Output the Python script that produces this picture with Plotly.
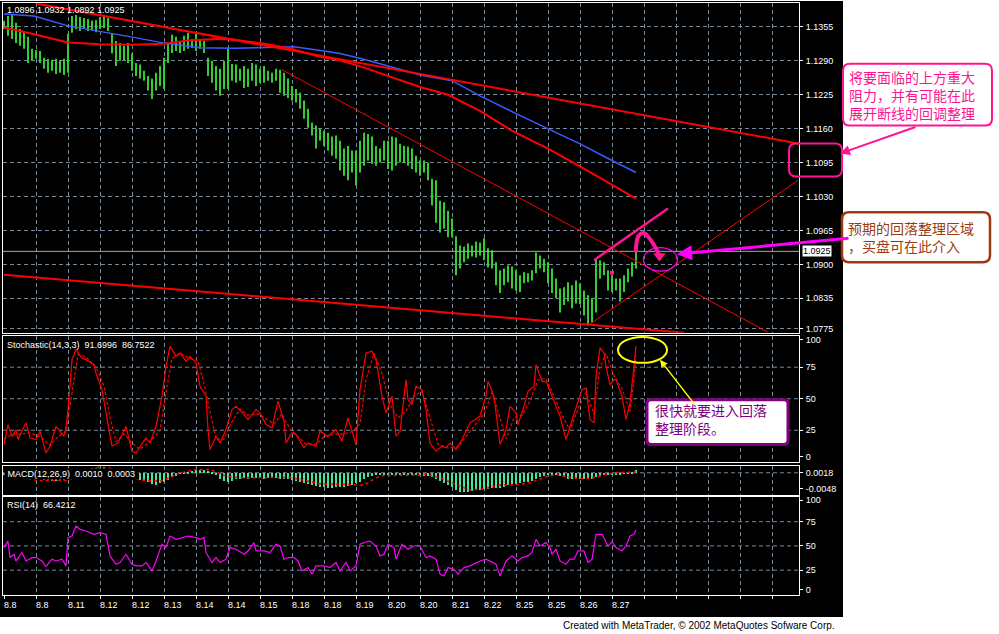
import plotly.graph_objects as go

W, H = 999, 634
FONT = "Liberation Sans"
CJK = "Noto Sans CJK SC"
GRID = "#778899"

# ---------------- data ----------------
time_labels = ["8.8", "8.8", "8.11", "8.12", "8.12", "8.13", "8.14", "8.14", "8.15", "8.18",
               "8.18", "8.19", "8.20", "8.20", "8.21", "8.22", "8.25", "8.25", "8.26", "8.27"]
label_every_hours = 16
bar_step_hours = 2

bar_high = [
    1.1367, 1.1376, 1.1378, 1.1363, 1.1351, 1.1347, 1.1336, 1.1313, 1.1311, 1.1309,
    1.1296, 1.1294, 1.1292, 1.1294, 1.1290, 1.1294, 1.1342, 1.1376, 1.1378, 1.1374,
    1.1372, 1.1370, 1.1367, 1.1368, 1.1374, 1.1376, 1.1372, 1.1342, 1.1328, 1.1324,
    1.1319, 1.1324, 1.1304, 1.1286, 1.1283, 1.1271, 1.1261, 1.1256, 1.1267, 1.1280,
    1.1296, 1.1324, 1.1340, 1.1336, 1.1328, 1.1338, 1.1344, 1.1332, 1.1342, 1.1332,
    1.1328, 1.1296, 1.1290, 1.1280, 1.1275, 1.1290, 1.1315, 1.1284, 1.1283, 1.1275,
    1.1280, 1.1275, 1.1286, 1.1283, 1.1275, 1.1280, 1.1271, 1.1267, 1.1275, 1.1273,
    1.1267, 1.1256, 1.1242, 1.1236, 1.1229, 1.1214, 1.1198, 1.1172, 1.1166, 1.1160,
    1.1156, 1.1152, 1.1145, 1.1147, 1.1137, 1.1122, 1.1127, 1.1118, 1.1118, 1.1137,
    1.1152, 1.1150, 1.1145, 1.1127, 1.1122, 1.1137, 1.1137, 1.1145, 1.1143, 1.1131,
    1.1127, 1.1126, 1.1122, 1.1108, 1.1099, 1.1099, 1.1095, 1.1064, 1.1061, 1.1022,
    1.1019, 1.1003, 1.0988, 1.0954, 1.0936, 1.0934, 1.0940, 1.0936, 1.0944, 1.0942,
    1.0950, 1.0931, 1.0927, 1.0904, 1.0889, 1.0892, 1.0898, 1.0896, 1.0889, 1.0879,
    1.0885, 1.0883, 1.0889, 1.0923, 1.0917, 1.0911, 1.0904, 1.0892, 1.0873, 1.0854,
    1.0856, 1.0866, 1.0860, 1.0869, 1.0864, 1.0850, 1.0841, 1.0835, 1.0912, 1.0908,
    1.0904, 1.0889, 1.0879, 1.0873, 1.0873, 1.0879, 1.0892, 1.0904, 1.0932]
bar_low = [
    1.1351, 1.1338, 1.1332, 1.1324, 1.1319, 1.1313, 1.1286, 1.1290, 1.1294, 1.1286,
    1.1275, 1.1267, 1.1271, 1.1265, 1.1267, 1.1263, 1.1267, 1.1344, 1.1351, 1.1347,
    1.1351, 1.1347, 1.1349, 1.1345, 1.1351, 1.1353, 1.1347, 1.1304, 1.1280, 1.1290,
    1.1290, 1.1286, 1.1271, 1.1261, 1.1256, 1.1252, 1.1233, 1.1217, 1.1233, 1.1242,
    1.1236, 1.1286, 1.1305, 1.1309, 1.1305, 1.1309, 1.1313, 1.1315, 1.1309, 1.1313,
    1.1305, 1.1261, 1.1248, 1.1233, 1.1223, 1.1236, 1.1236, 1.1252, 1.1248, 1.1252,
    1.1238, 1.1240, 1.1252, 1.1242, 1.1248, 1.1248, 1.1252, 1.1248, 1.1252, 1.1229,
    1.1223, 1.1219, 1.1214, 1.1210, 1.1198, 1.1179, 1.1162, 1.1147, 1.1122, 1.1137,
    1.1127, 1.1118, 1.1108, 1.1103, 1.1080, 1.1070, 1.1061, 1.1076, 1.1051, 1.1076,
    1.1089, 1.1099, 1.1093, 1.1089, 1.1095, 1.1099, 1.1083, 1.1080, 1.1089, 1.1095,
    1.1095, 1.1089, 1.1083, 1.1076, 1.1070, 1.1076, 1.1061, 1.1013, 1.0980, 1.0961,
    1.0969, 1.0952, 1.0952, 1.0879, 1.0892, 1.0904, 1.0911, 1.0915, 1.0913, 1.0917,
    1.0908, 1.0894, 1.0892, 1.0860, 1.0845, 1.0860, 1.0866, 1.0854, 1.0850, 1.0847,
    1.0864, 1.0866, 1.0869, 1.0883, 1.0892, 1.0885, 1.0864, 1.0845, 1.0835, 1.0808,
    1.0822, 1.0829, 1.0816, 1.0825, 1.0824, 1.0802, 1.0783, 1.0789, 1.0808, 1.0873,
    1.0879, 1.0850, 1.0847, 1.0850, 1.0829, 1.0847, 1.0866, 1.0877, 1.0892]

header_ohlc = ["1.0896", "1.0932", "1.0892", "1.0925"]
last_price = 1.0925

# moving averages: (hour, price)
ma_blue = [(0, 1.1380), (15, 1.1376), (32, 1.1357), (48, 1.1347), (65, 1.1335), (80, 1.1324),
           (98, 1.1315), (115, 1.1314), (132, 1.1315), (145, 1.1317), (160, 1.1309), (168, 1.1304),
           (180, 1.1293), (208, 1.1263), (224, 1.1252), (238, 1.1223), (256, 1.1189), (272, 1.1160),
           (288, 1.1131), (304, 1.1099), (316, 1.1076)]
ma_red = [(0, 1.1354), (14, 1.1342), (32, 1.1325), (48, 1.1322), (64, 1.1321), (80, 1.1323),
          (92, 1.1329), (106, 1.1332), (114, 1.1331), (132, 1.1322), (144, 1.1313), (158, 1.1298),
          (168, 1.1291), (180, 1.1277), (208, 1.1240), (222, 1.1225), (238, 1.1194), (254, 1.1156),
          (272, 1.1122), (288, 1.1088), (316, 1.1026)]

# drawn trend lines: (hour, price) end points
trend_upper = [(16, 1.1400), (398, 1.1131)]
trend_mid = [(139, 1.1273), (382, 1.0770)]
trend_bottom = [(0, 1.0880), (340, 1.0769)]
trend_support = [(292, 1.0783), (397, 1.1061)]
channel_pink = [(295, 1.0908), (332, 1.1007)]
hook_pink = [(315.9, 1.0923), (316.2, 1.0940), (317.3, 1.0955), (319.8, 1.0960), (322.3, 1.0952),
             (324.5, 1.0940), (326.5, 1.0927), (327.7, 1.0916)]
pink_dot = [(304, 1.0884)]
target_ellipse = [(319.7, 1.0887), (336.7, 1.0932)]

price_ticks = [1.1355, 1.1290, 1.1225, 1.1160, 1.1095, 1.1030, 1.0965, 1.0900, 1.0835, 1.0777]
price_tick_text = ["1.1355", "1.1290", "1.1225", "1.1160", "1.1095", "1.1030", "1.0965",
                   "1.0900", "1.0835", "1.0775"]

stoch_main = [(0, 13.7), (2, 29.5), (4, 20), (6, 25.6), (7, 17.7), (11, 30.9), (13, 19), (16, 17.7),
              (18, 24.2), (21, 7), (23, 12.4), (26, 28.2), (30, 20.3), (31, 28), (32, 41), (34, 81),
              (36, 89), (39, 82), (41, 81), (45, 77), (46, 70), (49, 57), (51, 38.8), (54, 12.4),
              (57, 15), (61, 28), (64, 8.4), (66, 7), (71, 19), (73, 15), (76, 28), (79, 52),
              (81, 75.7), (83, 91.5), (86, 83.6), (88, 86.3), (91, 79.7), (93, 83.6), (96, 78.4),
              (98, 59.9), (101, 52), (102, 25.6), (103, 9.7), (106, 20.3), (108, 15), (111, 25.6),
              (114, 41.4), (116, 44), (120, 37.4), (122, 33.5), (126, 41.4), (128, 38.8), (131, 29.5),
              (134, 26.9), (137, 48), (140, 32.1), (141, 15), (144, 23), (146, 21.6), (150, 11.1),
              (152, 15), (156, 12.4), (158, 24.2), (162, 20.3), (166, 25.6), (169, 16.3), (172, 34.8),
              (176, 13.7), (178, 57.2), (181, 86.3), (184, 87.6), (186, 81), (189, 52), (191, 38.8),
              (194, 52), (196, 20.3), (198, 24.2), (201, 65), (202, 49), (204, 45.4), (206, 60),
              (209, 57.2), (211, 41.4), (213, 15), (216, 8.4), (219, 12.4), (221, 11.1), (223, 15),
              (226, 9.7), (229, 17.7), (233, 30.9), (238, 36.1), (241, 52), (242, 63.8), (245, 52),
              (247, 23), (248, 13.7), (251, 25.6), (253, 44), (256, 38.8), (257, 29.5), (260, 44),
              (262, 55.9), (265, 59.9), (266, 77), (269, 63.8), (271, 63.8), (274, 52), (276, 44),
              (278, 36.1), (281, 17.7), (283, 28.2), (286, 42.8), (289, 57.2), (291, 58.6), (293, 33.5),
              (295, 30.9), (296, 67.8), (298, 90.3), (300, 86.3), (301, 75.7), (303, 61.2), (305, 65.2),
              (306, 65.2), (309, 52), (311, 33.5), (313, 46.7), (315, 75.7), (316, 91.6996)]
stoch_signal = [(0, 18), (4, 22), (8, 22), (13, 23), (18, 20), (23, 13), (27, 20), (31, 24), (34, 55),
                (37, 85), (41, 83), (46, 75), (50, 60), (53, 35), (56, 16), (60, 22), (64, 15), (68, 10),
                (73, 16), (78, 25), (81, 55), (84, 82), (88, 86), (93, 82), (97, 80), (100, 62), (103, 40),
                (106, 18), (110, 18), (114, 32), (118, 42), (122, 37), (127, 38), (131, 34), (135, 30),
                (139, 38), (143, 26), (147, 20), (151, 14), (156, 14), (160, 20), (166, 22), (170, 22),
                (174, 24), (178, 30), (181, 65), (185, 86), (189, 70), (193, 45), (197, 35), (201, 40),
                (205, 52), (209, 56), (213, 35), (217, 14), (222, 11), (227, 12), (231, 20), (236, 30),
                (240, 38), (244, 55), (248, 35), (251, 18), (255, 35), (259, 37), (263, 48), (267, 65),
                (271, 66), (275, 52), (279, 37), (283, 25), (287, 42), (291, 55), (295, 38), (298, 75),
                (301, 86), (305, 68), (309, 58), (313, 40), (315, 65), (316, 86.7522)]
stoch_text = ["91.6996", "86.7522"]

macd_hist = [
    -0.0003, -0.0004, -0.0006, -0.0008, -0.0010, -0.0012, -0.0014, -0.0015, -0.0016,
    -0.0018, -0.0020, -0.0021, -0.0022, -0.0022, -0.0021, -0.0020, -0.0012,
    -0.0004, 0.0004, 0.0009, 0.0012, 0.0014, 0.0015, 0.0016, 0.0016, 0.0015,
    0.0013, 0.0008, 0.0002, -0.0003, -0.0007, -0.0011, -0.0014, -0.0017,
    -0.0019, -0.0021, -0.0026, -0.0032, -0.0034, -0.0030, -0.0026, -0.0020,
    -0.0012, -0.0007, -0.0002, 0.0002,
    0.0005, 0.0007, 0.0009, 0.0010, 0.0010, 0.0006, 0.0002, -0.0006, -0.0016,
    -0.0024, -0.0026, -0.0022,
    -0.0018, -0.0016, -0.0015, -0.0016, -0.0015, -0.0014, -0.0015, -0.0016, -0.0015, -0.0014,
    -0.0014, -0.0016, -0.0017, -0.0018,
    -0.0020, -0.0022, -0.0025, -0.0029, -0.0033, -0.0036, -0.0039, -0.0041, -0.0042, -0.0043, -0.0043,
    -0.0042, -0.0041, -0.0040, -0.0039, -0.0036,
    -0.0030, -0.0025, -0.0018,
    -0.0012, -0.0008,
    -0.0006, -0.0005, -0.0005, -0.0004, -0.0004, -0.0005, -0.0005, -0.0004, -0.0004, -0.0005,
    -0.0006, -0.0006, -0.0007, -0.0009,
    -0.0012, -0.0016, -0.0022,
    -0.0030, -0.0036, -0.0042,
    -0.0050, -0.0055, -0.0057, -0.0056,
    -0.0053, -0.0051, -0.0049, -0.0047,
    -0.0046, -0.0045, -0.0045, -0.0044,
    -0.0040, -0.0036, -0.0033, -0.0031, -0.0029,
    -0.0027, -0.0025, -0.0022, -0.0016,
    -0.0010, -0.0007, -0.0006,
    -0.0005, -0.0005, -0.0008, -0.0012,
    -0.0016, -0.0018, -0.0017, -0.0016,
    -0.0016, -0.0017, -0.0018, -0.0012, -0.0008,
    -0.0005, -0.0004, -0.0003, -0.0003, -0.0003, -0.0002, -0.0001, 0.0003,
    0.0010]
macd_signal = [(0, -0.0008), (10, -0.0016), (18, -0.0023), (32, -0.0023), (40, -0.0002), (46, 0.0017),
               (52, 0.0017), (60, -0.0005), (68, -0.0022), (78, -0.0025), (83, -0.0015), (87, -0.0002),
               (96, 0.0010), (103, 0.0010), (105, 0.0005), (111, -0.0010), (118, -0.0015), (128, -0.0014),
               (143, -0.0014), (148, -0.0020), (158, -0.0033), (175, -0.0036), (178, -0.0038),
               (181, -0.0034), (186, -0.0015), (190, -0.0008), (198, -0.0007), (208, -0.0007),
               (211, -0.0004), (218, -0.0015), (223, -0.0028), (228, -0.0040), (233, -0.0052),
               (238, -0.0050), (243, -0.0043), (248, -0.0037), (253, -0.0037), (258, -0.0035),
               (263, -0.0030), (268, -0.0020), (272, -0.0010), (277, -0.0005), (282, -0.0013),
               (287, -0.0017), (293, -0.0017), (299, -0.0008), (305, 0.0), (313, 0.0002), (316, 0.0003)]
macd_text = ["0.0010", "0.0003"]
macd_ticks = [0.0, -0.0048]
macd_tick_text = ["0.0018", "-0.0048"]

rsi_line = [(0, 48.3), (2, 55), (3, 38), (5, 41.4), (6, 34.5), (9, 43.2), (11, 34.5), (14, 38), (16, 38),
            (19, 34.5), (21, 28.8), (24, 36.3), (26, 34.5), (29, 36.3), (31, 29.4), (32, 58.6), (34, 60.2),
            (36, 70.5), (38, 67.1), (41, 65.4), (45, 62), (48, 63.7), (51, 62), (53, 39.7), (56, 31.1),
            (58, 32.9), (61, 41.4), (64, 31.1), (66, 29.4), (69, 29.4), (71, 32.9), (74, 24.3), (76, 34.5),
            (79, 51.7), (81, 48.3), (83, 60.2), (86, 56.8), (90, 58.6), (92, 60.2), (96, 58.6), (98, 56.8),
            (100, 58.6), (101, 43.2), (104, 32.9), (106, 38), (108, 32.9), (111, 36.3), (113, 48.3),
            (116, 46.6), (120, 41.4), (122, 44.8), (125, 53.4), (126, 44.8), (130, 44.8), (133, 43.2),
            (136, 51.7), (138, 49.9), (140, 36.3), (142, 38), (145, 38), (147, 34.5), (149, 24.3),
            (152, 27.7), (154, 20.9), (156, 29.4), (160, 29.4), (163, 27.7), (166, 32.9), (168, 24.3),
            (171, 32.9), (173, 24.3), (176, 29.4), (178, 51.7), (181, 54.1), (183, 55), (186, 49.9),
            (188, 39.7), (190, 41.4), (192, 51.7), (195, 48.3), (196, 36.3), (199, 51.7), (202, 46.6),
            (205, 49.9), (207, 50.7), (208, 50), (211, 38), (213, 39.7), (216, 36.3), (218, 20.9),
            (220, 19.1), (222, 27.7), (225, 26), (227, 20.9), (230, 27.7), (233, 29.4), (236, 32.9),
            (238, 34.5), (241, 36.3), (243, 34.5), (246, 31.1), (248, 19.1), (251, 34.5), (254, 39.7),
            (257, 34.5), (259, 38), (262, 39.7), (264, 43.2), (266, 56.8), (268, 49.9), (271, 53.4),
            (273, 48.3), (274, 41.4), (276, 46.6), (278, 34.5), (281, 31.1), (283, 36.3), (285, 36.3),
            (287, 44.8), (290, 44.8), (292, 32.9), (294, 36.3), (296, 62), (299, 62), (302, 49.9),
            (304, 54.1), (306, 48.3), (309, 44.8), (311, 49.9), (313, 60.2), (315, 62), (316, 66.4212)]
rsi_text = "66.4212"

osc_levels = [25, 50, 75]
osc_tick_text = ["0", "25", "50", "75", "100"]
stoch_label_pos = [4.2, 25, 50, 75, 97.0]
rsi_label_pos = [4.7, 25, 50, 75, 97.2]

note_resistance = ["将要面临的上方重大", "阻力，并有可能在此", "展开断线的回调整理"]
note_pullback = ["预期的回落整理区域", "，买盘可在此介入"]
note_stoch = ["很快就要进入回落", "整理阶段。"]
credit = "Created with MetaTrader, © 2002 MetaQuotes Sofware Corp."

# ---------------- helpers ----------------
def xs(pairs):
    return [p[0] for p in pairs]


def ys(pairs):
    return [p[1] for p in pairs]


def PX(v):
    return v / W


def PY(v):
    return 1 - v / H


def rrect(x0, y0, x1, y1, r):
    return (f"M {PX(x0 + r)},{PY(y0)} L {PX(x1 - r)},{PY(y0)} Q {PX(x1)},{PY(y0)} {PX(x1)},{PY(y0 + r)} "
            f"L {PX(x1)},{PY(y1 - r)} Q {PX(x1)},{PY(y1)} {PX(x1 - r)},{PY(y1)} "
            f"L {PX(x0 + r)},{PY(y1)} Q {PX(x0)},{PY(y1)} {PX(x0)},{PY(y1 - r)} "
            f"L {PX(x0)},{PY(y0 + r)} Q {PX(x0)},{PY(y0)} {PX(x0 + r)},{PY(y0)} Z")


fig = go.Figure()


def line(pairs, color, width, ax="", dash=None, shape="linear"):
    fig.add_trace(go.Scatter(x=xs(pairs), y=ys(pairs), mode="lines",
                             line=dict(color=color, width=width, dash=dash, shape=shape),
                             xaxis="x" + ax, yaxis="y" + ax, hoverinfo="skip", showlegend=False))


# ---------------- main price panel ----------------
bar_hours = [i * bar_step_hours for i in range(len(bar_high))]
bx, by = [], []
for j, h, l in zip(bar_hours, bar_high, bar_low):
    bx += [j, j, None]
    by += [l, h, None]
fig.add_trace(go.Scatter(x=bx, y=by, mode="lines", line=dict(color="#32cd32", width=2),
                         hoverinfo="skip", showlegend=False))

line([(-1, last_price), (400, last_price)], "#a8a8b4", 1)
line(ma_blue, "#3a5cff", 1.5)
line(ma_red, "#ff0000", 2)
line(trend_upper, "#ff0000", 2)
line(trend_mid, "#ff0000", 1)
line(trend_bottom, "#ff0000", 2)
line(trend_support, "#ff0000", 1)
line(channel_pink, "#ff1493", 2.5)
line(hook_pink, "#ff1493", 4, shape="spline")
fig.add_trace(go.Scatter(x=[hook_pink[-1][0]], y=[hook_pink[-1][1]], mode="markers",
                         marker=dict(symbol="triangle-down", size=11, color="#ff1493"),
                         hoverinfo="skip", showlegend=False))
fig.add_trace(go.Scatter(x=xs(pink_dot), y=ys(pink_dot), mode="markers",
                         marker=dict(symbol="square", size=4, color="#ff1493"),
                         hoverinfo="skip", showlegend=False))

# ---------------- stochastic ----------------
line(stoch_main, "#ff0000", 1.2, ax="2")
line(stoch_signal, "#ff0000", 1.2, ax="2", dash="3px,2px")

# ---------------- MACD ----------------
fig.add_trace(go.Bar(x=bar_hours[:len(macd_hist)], y=macd_hist, width=1.0,
                     marker=dict(color="#40e8a0", line=dict(width=0)),
                     xaxis="x3", yaxis="y3", hoverinfo="skip", showlegend=False))
line(macd_signal, "#ff0000", 1.5, ax="3", dash="3px,3px")

# ---------------- RSI ----------------
line(rsi_line, "#ff00ff", 1.2, ax="4")

# ---------------- axes ----------------
grid_hours = [label_every_hours * k for k in range(1, 25)]
tick_hours = [label_every_hours * k for k in range(len(time_labels))]
X_RANGE = [-0.5, 397.5]


def xax(anchor, bottom=False):
    return dict(domain=[PX(3), PX(799)], range=X_RANGE, anchor=anchor,
                showgrid=True, gridcolor=GRID, griddash="4px,3px", gridwidth=1,
                tickvals=grid_hours if not bottom else sorted(set(grid_hours + tick_hours)),
                showticklabels=False, ticks="outside" if bottom else "", ticklen=3, tickcolor="white",
                showline=True, linecolor="white", linewidth=1, mirror=True, zeroline=False,
                fixedrange=True)


def yax(anchor, top, bottom, rng, tv, tt, grid=True):
    return dict(domain=[PY(bottom), PY(top)], range=rng, anchor=anchor, side="right",
                tickvals=tv, ticktext=tt, showgrid=grid, gridcolor=GRID, griddash="4px,3px",
                ticks="outside", ticklen=3, tickcolor="white", ticklabelstandoff=1,
                tickfont=dict(color="white", size=9, family=FONT),
                showline=True, linecolor="white", linewidth=1, mirror=True, zeroline=False,
                fixedrange=True)


fig.update_layout(
    width=W, height=H, margin=dict(l=0, r=0, t=0, b=0), autosize=False,
    paper_bgcolor="white", plot_bgcolor="black", showlegend=False, bargap=0,
    xaxis=xax("y"), xaxis2=xax("y2"), xaxis3=xax("y3"), xaxis4=xax("y4", bottom=True),
    yaxis=yax("x", 2.3, 332.7, [1.07692, 1.14003], price_ticks, price_tick_text),
    yaxis2=yax("x2", 335.7, 462.3, [0, 100], stoch_label_pos, osc_tick_text, grid=False),
    yaxis3=yax("x3", 466, 495.7, [-0.00672, 0.00219], macd_ticks, macd_tick_text, grid=False),
    yaxis4=yax("x4", 497.3, 596, [-0.72, 100.72], rsi_label_pos, osc_tick_text, grid=False),
)

grid_line = dict(color=GRID, width=1, dash="4px,3px")
shapes = [
    dict(type="rect", xref="paper", yref="paper", x0=0, x1=PX(843), y0=PY(618), y1=1,
         fillcolor="black", line=dict(width=0), layer="below"),
    dict(type="line", xref="x3 domain", yref="y3", x0=0, x1=1, y0=0, y1=0,
         line=grid_line, layer="below"),
]
for v in osc_levels:
    for ax in ("2", "4"):
        shapes.append(dict(type="line", xref=f"x{ax} domain", yref=f"y{ax}", x0=0, x1=1, y0=v, y1=v,
                           line=grid_line, layer="below"))
shapes += [
    dict(type="circle", xref="x", yref="y", x0=target_ellipse[0][0], x1=target_ellipse[1][0],
         y0=target_ellipse[0][1], y1=target_ellipse[1][1], line=dict(color="#ff00ff", width=1.2)),
    dict(type="circle", xref="paper", yref="paper", x0=PX(618), x1=PX(667), y0=PY(363), y1=PY(337),
         line=dict(color="#ffff00", width=2)),
    dict(type="path", xref="paper", yref="paper", path=rrect(789, 143, 842, 176, 7),
         line=dict(color="#ff1493", width=2)),
    dict(type="path", xref="paper", yref="paper", path=rrect(843, 63, 992, 125, 7),
         line=dict(color="#ff1493", width=2), fillcolor="white"),
    dict(type="path", xref="paper", yref="paper", path=rrect(842, 212, 990, 262, 7),
         line=dict(color="#9c3a0e", width=2.5), fillcolor="white"),
    dict(type="path", xref="paper", yref="paper", path=rrect(647, 400, 788, 445, 4),
         line=dict(color="#800080", width=3), fillcolor="white"),
]
fig.update_layout(shapes=shapes)

NB = "\u00a0"
ann = []


def txt(x, y, s, color="white", size=9, family=FONT, anchor="left", bg=None, yanchor="middle"):
    d = dict(xref="paper", yref="paper", x=PX(x), y=PY(y), text=s, showarrow=False,
             xanchor=anchor, yanchor=yanchor, align="left",
             font=dict(color=color, size=size, family=family), borderpad=0)
    if bg:
        d["bgcolor"] = bg
    ann.append(d)


txt(6, 9, NB.join(header_ohlc))
txt(6, 345, "Stochastic(14,3,3)" + NB * 2 + stoch_text[0] + NB * 2 + stoch_text[1])
txt(4, 474, NB + "MACD(12,26,9)" + NB * 2 + macd_text[0] + NB * 2 + macd_text[1] + NB, bg="black")
txt(6, 506, "RSI(14)" + NB * 2 + rsi_text)
txt(802, 250.5, f"{last_price:.4f}", color="black", bg="white")

for k, lab in enumerate(time_labels):
    ann.append(dict(xref="x4", yref="paper", x=tick_hours[k], y=PY(605.5), text=lab, showarrow=False,
                    xanchor="left", yanchor="middle", xshift=-2,
                    font=dict(color="white", size=9, family=FONT)))

txt(848, 94, "<br>".join(note_resistance), color="#ff1493", size=14, family=CJK)
txt(847, 237, "<br>".join(note_pullback), color="#9c3a0e", size=14, family=CJK)
txt(654, 419, "<br>".join(note_stoch), color="#800080", size=14, family=CJK)

txt(836, 626, credit, color="black", size=10, anchor="right")


def arrow(hx, hy, tx, ty, color, width):
    ann.append(dict(xref="paper", yref="paper", x=PX(hx), y=PY(hy), ax=tx - hx, ay=ty - hy,
                    text="", showarrow=True, arrowhead=2, arrowsize=1, arrowwidth=width,
                    arrowcolor=color, standoff=0))


arrow(840, 153, 917, 126, "#ff1493", 2)
arrow(677, 254, 850, 238, "#ff00ff", 3)
arrow(660, 360, 695, 405, "#ffff00", 1.5)

fig.update_layout(annotations=ann)
fig.write_html("out.html", config={"displayModeBar": False},
               post_script="document.body.style.margin='0';document.body.style.padding='0';"
                           "document.body.style.overflow='hidden';")
